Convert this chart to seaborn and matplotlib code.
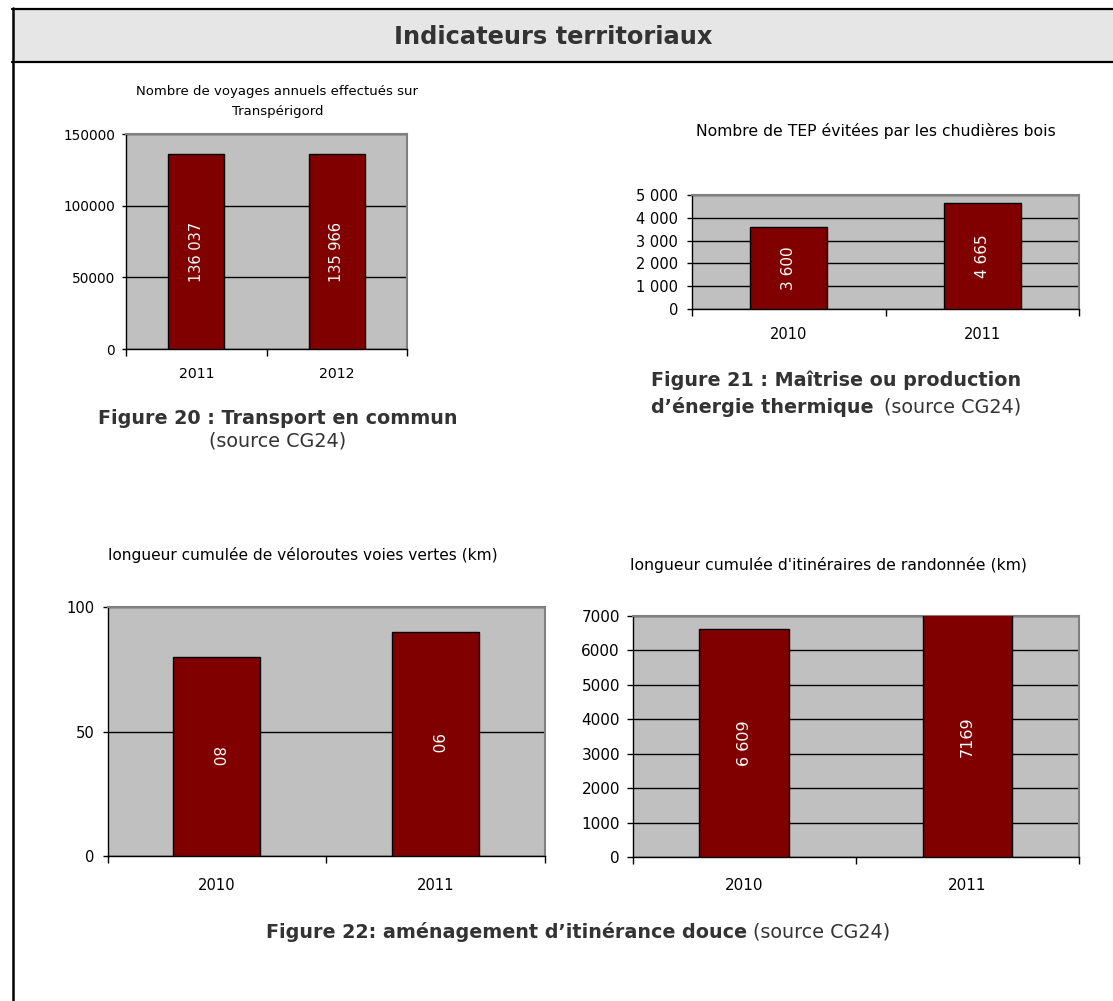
import matplotlib
matplotlib.use('Agg')
import matplotlib.pyplot as plt
import seaborn as sns
import pandas as pd
from matplotlib.patches import Rectangle
from matplotlib.lines import Line2D

sns.set_theme(style='white')
plt.rcParams['font.family'] = ['DejaVu Sans']

# ---------------- data ----------------
transport_years = ['2011', '2012']
transport_trips = [136037, 135966]
transport_labels = ['136 037', '135 966']
transport_ticks = [0, 50000, 100000, 150000]
transport_ticklabels = ['0', '50000', '100000', '150000']

tep_years = ['2010', '2011']
tep_values = [3600, 4665]
tep_labels = ['3 600', '4 665']
tep_ticks = [0, 1000, 2000, 3000, 4000, 5000]
tep_ticklabels = ['0', '1 000', '2 000', '3 000', '4 000', '5 000']

velo_years = ['2010', '2011']
velo_km = [80, 90]
velo_labels = ['80', '90']
velo_ticks = [0, 50, 100]
velo_ticklabels = ['0', '50', '100']

rando_years = ['2010', '2011']
rando_km = [6609, 7169]
rando_labels = ['6 609', '7169']
rando_ticks = [0, 1000, 2000, 3000, 4000, 5000, 6000, 7000]
rando_ticklabels = ['0', '1000', '2000', '3000', '4000', '5000', '6000', '7000']

header_title = 'Indicateurs territoriaux'
title_transport = ['Nombre de voyages annuels effectués sur', 'Transpérigord']
title_tep = 'Nombre de TEP évitées par les chudières bois'
title_velo = 'longueur cumulée de véloroutes voies vertes (km)'
title_rando = "longueur cumulée d'itinéraires de randonnée (km)"

# ---------------- figure ----------------
W, H = 1113, 1001
fig = plt.figure(figsize=(W / 100, H / 100), dpi=100)
fig.patch.set_facecolor('white')
renderer = fig.canvas.get_renderer()

BAR = '#800000'
PLOT_BG = '#c0c0c0'
CAP = '#333333'
CAP_FS = 13.8


def box(l, r, t, b):
    return [l / W, 1 - b / H, (r - l) / W, (b - t) / H]


def ftext(x, y, s, **kw):
    kw.setdefault('ha', 'center')
    kw.setdefault('va', 'center')
    return fig.text(x / W, 1 - y / H, s, **kw)


def fit(t, target):
    w = t.get_window_extent(renderer).width
    t.set_fontsize(t.get_fontsize() * target / w)
    return t.get_fontsize()


def width(t):
    return t.get_window_extent(renderer).width


def chart(bx, cats, vals, labels, ticks, ticklabels, ymax,
          tick_fs, x_fs, lab_fs, lab_rot, xpad, ypad, ylen):
    ax = fig.add_axes(bx)
    df = pd.DataFrame({'year': cats, 'value': vals})
    sns.barplot(data=df, x='year', y='value', ax=ax, color=BAR, saturation=1,
                width=0.4, edgecolor='black', linewidth=1.0, zorder=3)
    ax.set_facecolor(PLOT_BG)
    ax.set_xlim(-0.5, 1.5)
    ax.set_ylim(0, ymax)
    ax.set_xlabel('')
    ax.set_ylabel('')
    ax.set_axisbelow(True)
    ax.yaxis.grid(True, color='black', linewidth=1.0)
    ax.xaxis.grid(False)
    ax.set_yticks(ticks)
    ax.set_yticklabels(ticklabels, fontsize=tick_fs)
    ax.set_xticks([-0.5, 0.5, 1.5])
    ax.set_xticklabels(['', '', ''])
    ax.set_xticks([0, 1], minor=True)
    ax.set_xticklabels(cats, minor=True, fontsize=x_fs)
    ax.tick_params(axis='x', which='major', bottom=True, length=5, width=1,
                   color='black', direction='out')
    ax.tick_params(axis='x', which='minor', bottom=True, length=0, pad=xpad,
                   labelcolor='black')
    ax.tick_params(axis='y', left=True, length=ylen, width=1, color='black',
                   direction='out', pad=ypad, labelcolor='black')
    for s in ['left', 'bottom']:
        ax.spines[s].set_color('black')
        ax.spines[s].set_linewidth(1.0)
    for s in ['top', 'right']:
        ax.spines[s].set_visible(True)
        ax.spines[s].set_color('#808080')
        ax.spines[s].set_linewidth(1.5)
    ax.bar_label(ax.containers[0], labels=labels, label_type='center',
                 rotation=lab_rot, color='white', fontsize=lab_fs)
    return ax


# header band
fig.add_artist(Rectangle((13 / W, 1 - 62 / H), (W - 13) / W, 53 / H,
                         transform=fig.transFigure, facecolor='#e6e6e6',
                         edgecolor='none', zorder=0))
fig.add_artist(Line2D([12 / W, 1], [1 - 9 / H, 1 - 9 / H], color='black',
                      lw=1.6, transform=fig.transFigure))
fig.add_artist(Line2D([12 / W, 1], [1 - 62.3 / H, 1 - 62.3 / H], color='black',
                      lw=1.6, transform=fig.transFigure))
fig.add_artist(Line2D([13 / W, 13 / W], [0, 1 - 8 / H], color='black',
                      lw=1.8, transform=fig.transFigure))

t = ftext(553.5, 37, header_title, fontsize=13, fontweight='bold', color=CAP)
fit(t, 317)

# charts
chart(box(126, 407, 134, 349), transport_years, transport_trips,
      transport_labels, transport_ticks, transport_ticklabels, 150000,
      9.8, 10.2, 10.5, 90, 13.0, 4.8, 3)
chart(box(692, 1079, 195, 309), tep_years, tep_values, tep_labels,
      tep_ticks, tep_ticklabels, 5000, 10.5, 10.5, 11, 90, 13, 6.5, 3.6)
chart(box(107.5, 544.6, 607, 856), velo_years, velo_km, velo_labels,
      velo_ticks, velo_ticklabels, 100, 10.6, 10.6, 11, -90, 15.5, 5.8, 3.6)
chart(box(632.5, 1079, 616, 857), rando_years, rando_km, rando_labels,
      rando_ticks, rando_ticklabels, 7000, 11, 11, 11.5, 90, 15, 4.5, 4.5)

# chart titles
t1 = ftext(277.5, 91, title_transport[0], fontsize=9, color='black')
fs = fit(t1, 281)
ftext(277.5, 112, title_transport[1], fontsize=fs, color='black')
t = ftext(876, 131, title_tep, fontsize=9, color='black')
fit(t, 358)
t = ftext(303, 555, title_velo, fontsize=9, color='black')
fit(t, 389)
t = ftext(829, 565, title_rando, fontsize=9, color='black')
fit(t, 396)

# captions
ftext(277.5, 419, 'Figure 20 : Transport en commun', fontsize=CAP_FS,
      fontweight='bold', color=CAP)
ftext(277.5, 441, '(source CG24)', fontsize=CAP_FS, color=CAP)

c1 = ftext(651, 380, 'Figure 21 : Maîtrise ou production', fontsize=CAP_FS,
           fontweight='bold', color=CAP, ha='left')
right = 651 + width(c1)
ftext(651, 407, 'd\u2019énergie thermique', fontsize=CAP_FS, fontweight='bold',
      color=CAP, ha='left')
ftext(right, 407, '(source CG24)', fontsize=CAP_FS, color=CAP, ha='right')

b = ftext(0, 932, 'Figure 22: aménagement d\u2019itinérance douce',
          fontsize=CAP_FS, fontweight='bold', color=CAP, ha='left')
n = ftext(0, 932, '(source CG24)', fontsize=CAP_FS, color=CAP, ha='left')
gap = 6
wb = width(b)
wn = width(n)
left = 578 - (wb + gap + wn) / 2
b.set_position((left / W, 1 - 932 / H))
n.set_position(((left + wb + gap) / W, 1 - 932 / H))

fig.savefig('out.png', dpi=100, facecolor='white')
